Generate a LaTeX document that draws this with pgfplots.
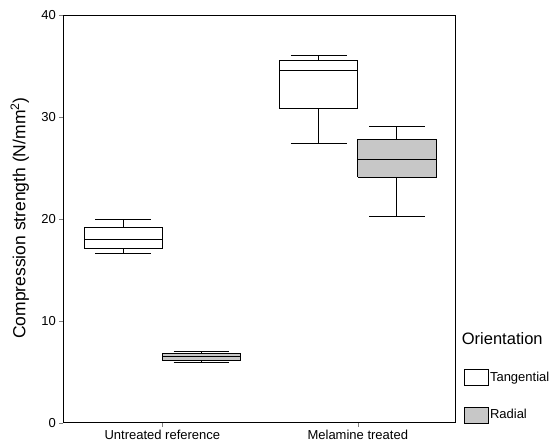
\documentclass[border=0pt]{standalone}
\usepackage{fontspec}
\setmainfont{Liberation Sans}
\usepackage{pgfplots}
\pgfplotsset{compat=1.18}
\definecolor{radfill}{gray}{0.78}
\begin{document}
\begin{tikzpicture}
\path[draw=none,fill=none] (0pt,0pt) rectangle (557pt,444pt);
\begin{axis}[
  at={(63.3pt,21.3pt)},
  scale only axis, width=392pt, height=407.7pt,
  xmin=-0.507, xmax=1.499, ymin=0, ymax=40,
  xtick={0,1}, xticklabels={Untreated reference, Melamine treated},
  ytick={0,10,20,30,40},
  tick pos=left, tick align=outside, major tick length=4pt,
  ticklabel style={font=\fontsize{13}{15}\selectfont},
  /pgf/number format/assume math mode=true,
  ylabel={Compression strength (N/mm\textsuperscript{2})},
  ylabel style={font=\fontsize{17.5}{20}\selectfont, at={(axis description cs:-0.111,0.502)}, anchor=center},
  unbounded coords=jump,
  legend image code/.code={\draw[#1] (0pt,-8pt) rectangle (24pt,8pt);},
  legend style={at={(axis description cs:1.022,0.1317)}, anchor=north west, draw=none, fill=none,
    inner sep=0pt, row sep=21pt, font=\fontsize{13}{15}\selectfont,
    nodes={inner sep=1.5pt}},
  legend cell align=left,
]
% boxes (lower quartile to upper quartile)
\addplot[draw=black, line width=0.8pt, fill=white, forget plot] coordinates
  {(-0.4,17.11) (0,17.11) (0,19.15) (-0.4,19.15) (-0.4,17.11)};
\addplot[draw=black, line width=0.8pt, fill=radfill, forget plot] coordinates
  {(0,6.15) (0.4,6.15) (0.4,6.80) (0,6.80) (0,6.15)};
\addplot[draw=black, line width=0.8pt, fill=white, forget plot] coordinates
  {(0.6,30.80) (1.0,30.80) (1.0,35.57) (0.6,35.57) (0.6,30.80)};
\addplot[draw=black, line width=0.8pt, fill=radfill, forget plot] coordinates
  {(1.0,24.08) (1.4,24.08) (1.4,27.75) (1.0,27.75) (1.0,24.08)};
% medians, whiskers and caps
\addplot[black, line width=0.8pt, forget plot] coordinates {
  (-0.4,17.97) (0,17.97) (nan,nan)
  (-0.2,19.15) (-0.2,19.97) (nan,nan) (-0.3425,19.97) (-0.0575,19.97) (nan,nan)
  (-0.2,17.11) (-0.2,16.62) (nan,nan) (-0.3425,16.62) (-0.0575,16.62) (nan,nan)
  (0,6.47) (0.4,6.47) (nan,nan)
  (0.2,6.80) (0.2,7.03) (nan,nan) (0.0575,7.03) (0.3425,7.03) (nan,nan)
  (0.2,6.15) (0.2,5.95) (nan,nan) (0.0575,5.95) (0.3425,5.95) (nan,nan)
  (0.6,34.58) (1.0,34.58) (nan,nan)
  (0.8,35.57) (0.8,36.06) (nan,nan) (0.6575,36.06) (0.9425,36.06) (nan,nan)
  (0.8,30.80) (0.8,27.39) (nan,nan) (0.6575,27.39) (0.9425,27.39) (nan,nan)
  (1.0,25.85) (1.4,25.85) (nan,nan)
  (1.2,27.75) (1.2,29.07) (nan,nan) (1.0575,29.07) (1.3425,29.07) (nan,nan)
  (1.2,24.08) (1.2,20.20) (nan,nan) (1.0575,20.20) (1.3425,20.20)
};
\addlegendimage{draw=black, fill=white}
\addlegendentry{Tangential}
\addlegendimage{draw=black, fill=radfill}
\addlegendentry{Radial}
\end{axis}
\node[anchor=west, inner sep=0pt, font=\fontsize{16.5}{18}\selectfont] at (461.7pt,105pt) {Orientation};
\end{tikzpicture}
\end{document}
